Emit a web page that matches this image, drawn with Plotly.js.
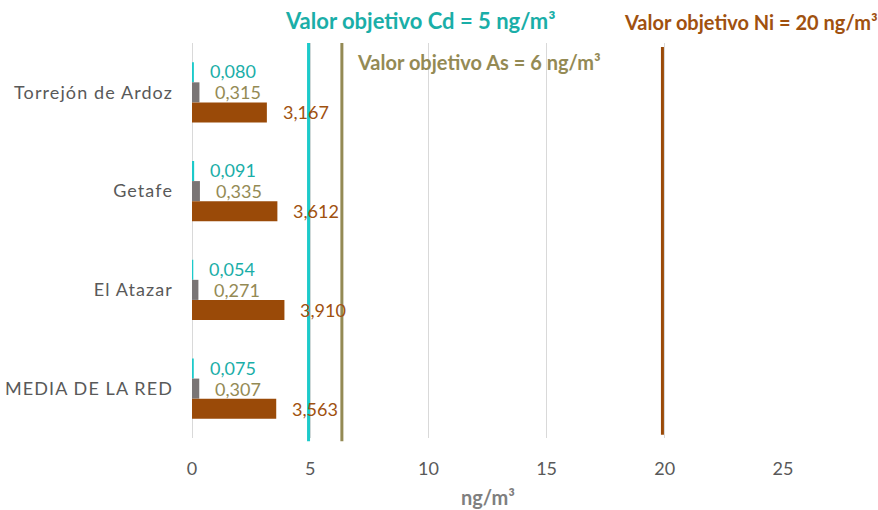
<!DOCTYPE html>
<html>
<head>
<meta charset="utf-8">
<script src="https://cdn.plot.ly/plotly-3.0.1.min.js"></script>
<style>html,body{margin:0;padding:0;background:#fff;}#chart{width:878px;height:510px;}
.ytick text{letter-spacing:1.1px;}</style>
</head>
<body>
<div id="chart"></div>
<script>
const categories = ["Torrejón de Ardoz", "Getafe", "El Atazar", "MEDIA DE LA RED"];
const cdValues = [0.080, 0.091, 0.054, 0.075];
const asValues = [0.315, 0.335, 0.271, 0.307];
const niValues = [3.167, 3.612, 3.910, 3.563];
const xTicks = [0, 5, 10, 15, 20, 25];
// positions of the target-value lines
const targetNames = ["Cd", "As", "Ni"];
const targetLabelValues = [5, 6, 20];
const targetLinePositions = [4.93, 6.34, 19.9];

const FONT = "Lato, 'Open Sans', sans-serif";
const cdLine = "#1ccaca", cdText = "#1aaea8", cdBar = "#1ccaca";
const asBar = "#7a7575", asColor = "#948a54";
const niBar = "#9a4a08", niText = "#a0510f";

function fmt(v){ return v.toFixed(3).replace('.', ','); }

const traces = [
  {type:'bar', orientation:'h', name:'Cd', y:categories, x:cdValues, marker:{color:cdBar}, hoverinfo:'none'},
  {type:'bar', orientation:'h', name:'As', y:categories, x:asValues, marker:{color:asBar}, hoverinfo:'none'},
  {type:'bar', orientation:'h', name:'Ni', y:categories, x:niValues, marker:{color:niBar}, hoverinfo:'none'}
];

const annotations = [];
const series = [[cdValues, cdText, 21], [asValues, asColor, 0], [niValues, niText, -20]];
series.forEach(([vals, col, ys]) => {
  vals.forEach((v, i) => {
    annotations.push({x:v, y:categories[i], xref:'x', yref:'y', text:fmt(v), showarrow:false,
      xanchor:'left', yanchor:'middle', xshift:14, yshift:ys, font:{family:FONT, size:18, color:col}});
  });
});

const targetColors = [cdText, asColor, niText];
const targetAnnPos = [[3.87, 1.058], [6.88, 0.952], [18.18, 1.053]];
const targetFontSizes = [22, 20, 20];
targetNames.forEach((n, i) => {
  annotations.push({x:targetAnnPos[i][0], y:targetAnnPos[i][1], xref:'x', yref:'paper',
    text:'<b>Valor objetivo ' + n + ' = ' + targetLabelValues[i] + ' ng/m³</b>', showarrow:false,
    xanchor:'left', yanchor:'middle', font:{family:FONT, size:targetFontSizes[i], color:targetColors[i]}});
});
annotations.push({x:0.5, y:-0.149, xref:'paper', yref:'paper', text:'<b>ng/m³</b>', showarrow:false,
  xanchor:'center', yanchor:'middle', font:{family:FONT, size:20, color:'#7f7f7f'}});

const lineColors = [cdLine, asColor, niBar];
const lineY = [[-0.008, 1.0], [-0.008, 1.0], [0.008, 0.99]];
const shapes = targetLinePositions.map((p, i) => ({type:'line', xref:'x', yref:'paper',
  x0:p, x1:p, y0:lineY[i][0], y1:lineY[i][1], line:{color:lineColors[i], width:3}}));

const layout = {
  width:878, height:510,
  margin:{l:192, r:95, t:43, b:72},
  paper_bgcolor:'#fff', plot_bgcolor:'#fff',
  showlegend:false,
  barmode:'group', bargap:0.39, bargroupgap:0,
  font:{family:FONT},
  xaxis:{range:[0,25], tickvals:xTicks, ticktext:xTicks.map(String), showgrid:true, gridcolor:'#d9d9d9', gridwidth:1,
    zeroline:true, zerolinecolor:'#d9d9d9', zerolinewidth:1, showline:false, ticks:'', ticklabelstandoff:18,
    tickfont:{family:FONT, size:18, color:'#595959'}, fixedrange:true},
  yaxis:{type:'category', autorange:'reversed', showgrid:false, zeroline:false, showline:false, ticks:'',
    ticklabelstandoff:18, tickfont:{family:FONT, size:18, color:'#595959'}, fixedrange:true},
  annotations:annotations,
  shapes:shapes
};

Plotly.newPlot('chart', traces, layout, {displayModeBar:false, staticPlot:true});
</script>
</body>
</html>
